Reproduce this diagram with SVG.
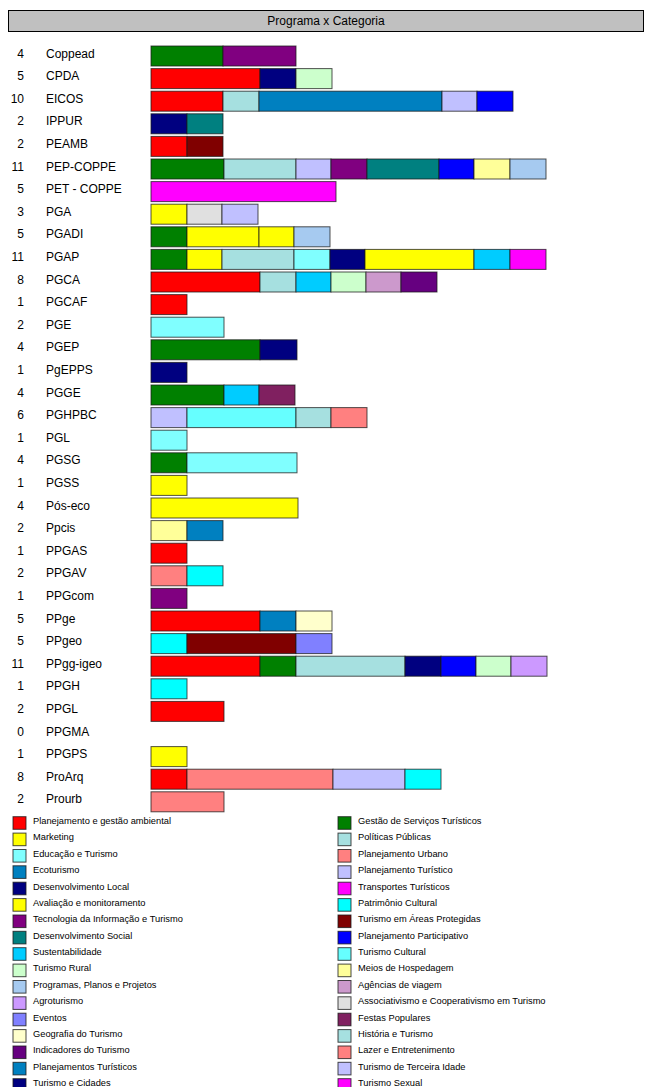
<svg xmlns="http://www.w3.org/2000/svg" width="651" height="1087" viewBox="0 0 651 1087">
<style>
text{font-family:"Liberation Sans",Arial,sans-serif;fill:#000}
.t{font-size:12px}
.n{font-size:12px;text-anchor:end}
.l{font-size:9.3px}
.s rect{stroke:#1a1a1a;stroke-opacity:0.75;stroke-width:1}
.k{stroke:#1a1a1a;stroke-opacity:0.8;stroke-width:1}
</style>
<rect width="651" height="1087" fill="#fff"/>
<g id="header">
<rect x="8.5" y="10.5" width="635" height="21" fill="#C0C0C0" stroke="#000"/>
<text class="t" x="326" y="25" text-anchor="middle">Programa x Categoria</text>
</g>
<g id="rows">
<g id="r-coppead"><text class="n" x="24" y="57.5">4</text><text class="t" x="46" y="57.5">Coppead</text><g class="s"><rect x="151" y="46" width="72" height="20" fill="#008000"/><rect x="223" y="46" width="73" height="20" fill="#800080"/></g></g>
<g id="r-cpda"><text class="n" x="24" y="80.1">5</text><text class="t" x="46" y="80.1">CPDA</text><g class="s"><rect x="151" y="68.6" width="109" height="20" fill="#FF0000"/><rect x="260" y="68.6" width="36" height="20" fill="#000080"/><rect x="296" y="68.6" width="36" height="20" fill="#CCFFCC"/></g></g>
<g id="r-eicos"><text class="n" x="24" y="102.7">10</text><text class="t" x="46" y="102.7">EICOS</text><g class="s"><rect x="151" y="91.2" width="72" height="20" fill="#FF0000"/><rect x="223" y="91.2" width="36" height="20" fill="#A6E0E0"/><rect x="259" y="91.2" width="183" height="20" fill="#0080C0"/><rect x="442" y="91.2" width="35" height="20" fill="#C0C0FF"/><rect x="477" y="91.2" width="36" height="20" fill="#0000FF"/></g></g>
<g id="r-ippur"><text class="n" x="24" y="125.3">2</text><text class="t" x="46" y="125.3">IPPUR</text><g class="s"><rect x="151" y="113.8" width="36" height="20" fill="#000080"/><rect x="187" y="113.8" width="36" height="20" fill="#008080"/></g></g>
<g id="r-peamb"><text class="n" x="24" y="147.9">2</text><text class="t" x="46" y="147.9">PEAMB</text><g class="s"><rect x="151" y="136.4" width="36" height="20" fill="#FF0000"/><rect x="187" y="136.4" width="36" height="20" fill="#800000"/></g></g>
<g id="r-pep"><text class="n" x="24" y="170.5">11</text><text class="t" x="46" y="170.5">PEP-COPPE</text><g class="s"><rect x="151" y="159" width="73" height="20" fill="#008000"/><rect x="224" y="159" width="72" height="20" fill="#A6E0E0"/><rect x="296" y="159" width="35" height="20" fill="#C0C0FF"/><rect x="331" y="159" width="36" height="20" fill="#800080"/><rect x="367" y="159" width="72" height="20" fill="#008080"/><rect x="439" y="159" width="35" height="20" fill="#0000FF"/><rect x="474" y="159" width="36" height="20" fill="#FFFF99"/><rect x="510" y="159" width="36" height="20" fill="#A6CAF0"/></g></g>
<g id="r-pet"><text class="n" x="24" y="193.1">5</text><text class="t" x="46" y="193.1">PET - COPPE</text><g class="s"><rect x="151" y="181.6" width="185" height="20" fill="#FF00FF"/></g></g>
<g id="r-pga"><text class="n" x="24" y="215.7">3</text><text class="t" x="46" y="215.7">PGA</text><g class="s"><rect x="151" y="204.2" width="36" height="20" fill="#FFFF00"/><rect x="187" y="204.2" width="35" height="20" fill="#E0E0E0"/><rect x="222" y="204.2" width="36" height="20" fill="#C0C0FF"/></g></g>
<g id="r-pgadi"><text class="n" x="24" y="238.3">5</text><text class="t" x="46" y="238.3">PGADI</text><g class="s"><rect x="151" y="226.8" width="36" height="20" fill="#008000"/><rect x="187" y="226.8" width="72" height="20" fill="#FFFF00"/><rect x="259" y="226.8" width="35" height="20" fill="#FFFF00"/><rect x="294" y="226.8" width="36" height="20" fill="#A6CAF0"/></g></g>
<g id="r-pgap"><text class="n" x="24" y="260.9">11</text><text class="t" x="46" y="260.9">PGAP</text><g class="s"><rect x="151" y="249.4" width="36" height="20" fill="#008000"/><rect x="187" y="249.4" width="35" height="20" fill="#FFFF00"/><rect x="222" y="249.4" width="72" height="20" fill="#A6E0E0"/><rect x="294" y="249.4" width="36" height="20" fill="#80FFFF"/><rect x="330" y="249.4" width="35" height="20" fill="#000080"/><rect x="365" y="249.4" width="109" height="20" fill="#FFFF00"/><rect x="474" y="249.4" width="36" height="20" fill="#00CCFF"/><rect x="510" y="249.4" width="36" height="20" fill="#FF00FF"/></g></g>
<g id="r-pgca"><text class="n" x="24" y="283.5">8</text><text class="t" x="46" y="283.5">PGCA</text><g class="s"><rect x="151" y="272" width="109" height="20" fill="#FF0000"/><rect x="260" y="272" width="36" height="20" fill="#A6E0E0"/><rect x="296" y="272" width="35" height="20" fill="#00CCFF"/><rect x="331" y="272" width="35" height="20" fill="#CCFFCC"/><rect x="366" y="272" width="35" height="20" fill="#CC99CC"/><rect x="401" y="272" width="36" height="20" fill="#660080"/></g></g>
<g id="r-pgcaf"><text class="n" x="24" y="306.1">1</text><text class="t" x="46" y="306.1">PGCAF</text><g class="s"><rect x="151" y="294.6" width="36" height="20" fill="#FF0000"/></g></g>
<g id="r-pge"><text class="n" x="24" y="328.7">2</text><text class="t" x="46" y="328.7">PGE</text><g class="s"><rect x="151" y="317.2" width="73" height="20" fill="#80FFFF"/></g></g>
<g id="r-pgep"><text class="n" x="24" y="351.3">4</text><text class="t" x="46" y="351.3">PGEP</text><g class="s"><rect x="151" y="339.8" width="109" height="20" fill="#008000"/><rect x="260" y="339.8" width="37" height="20" fill="#000080"/></g></g>
<g id="r-pgepps"><text class="n" x="24" y="373.9">1</text><text class="t" x="46" y="373.9">PgEPPS</text><g class="s"><rect x="151" y="362.4" width="36" height="20" fill="#000080"/></g></g>
<g id="r-pgge"><text class="n" x="24" y="396.5">4</text><text class="t" x="46" y="396.5">PGGE</text><g class="s"><rect x="151" y="385" width="73" height="20" fill="#008000"/><rect x="224" y="385" width="35" height="20" fill="#00CCFF"/><rect x="259" y="385" width="36" height="20" fill="#802060"/></g></g>
<g id="r-pghpbc"><text class="n" x="24" y="419.1">6</text><text class="t" x="46" y="419.1">PGHPBC</text><g class="s"><rect x="151" y="407.6" width="36" height="20" fill="#C0C0FF"/><rect x="187" y="407.6" width="109" height="20" fill="#66FFFF"/><rect x="296" y="407.6" width="35" height="20" fill="#A6E0E0"/><rect x="331" y="407.6" width="36" height="20" fill="#FF8080"/></g></g>
<g id="r-pgl"><text class="n" x="24" y="441.7">1</text><text class="t" x="46" y="441.7">PGL</text><g class="s"><rect x="151" y="430.2" width="36" height="20" fill="#80FFFF"/></g></g>
<g id="r-pgsg"><text class="n" x="24" y="464.3">4</text><text class="t" x="46" y="464.3">PGSG</text><g class="s"><rect x="151" y="452.8" width="36" height="20" fill="#008000"/><rect x="187" y="452.8" width="110" height="20" fill="#80FFFF"/></g></g>
<g id="r-pgss"><text class="n" x="24" y="486.9">1</text><text class="t" x="46" y="486.9">PGSS</text><g class="s"><rect x="151" y="475.4" width="36" height="20" fill="#FFFF00"/></g></g>
<g id="r-poseco"><text class="n" x="24" y="509.5">4</text><text class="t" x="46" y="509.5">Pós-eco</text><g class="s"><rect x="151" y="498" width="147" height="20" fill="#FFFF00"/></g></g>
<g id="r-ppcis"><text class="n" x="24" y="532.1">2</text><text class="t" x="46" y="532.1">Ppcis</text><g class="s"><rect x="151" y="520.6" width="36" height="20" fill="#FFFF99"/><rect x="187" y="520.6" width="36" height="20" fill="#0080C0"/></g></g>
<g id="r-ppgas"><text class="n" x="24" y="554.7">1</text><text class="t" x="46" y="554.7">PPGAS</text><g class="s"><rect x="151" y="543.2" width="36" height="20" fill="#FF0000"/></g></g>
<g id="r-ppgav"><text class="n" x="24" y="577.3">2</text><text class="t" x="46" y="577.3">PPGAV</text><g class="s"><rect x="151" y="565.8" width="36" height="20" fill="#FF8080"/><rect x="187" y="565.8" width="36" height="20" fill="#00FFFF"/></g></g>
<g id="r-ppgcom"><text class="n" x="24" y="599.9">1</text><text class="t" x="46" y="599.9">PPGcom</text><g class="s"><rect x="151" y="588.4" width="36" height="20" fill="#800080"/></g></g>
<g id="r-ppge"><text class="n" x="24" y="622.5">5</text><text class="t" x="46" y="622.5">PPge</text><g class="s"><rect x="151" y="611" width="109" height="20" fill="#FF0000"/><rect x="260" y="611" width="36" height="20" fill="#0080C0"/><rect x="296" y="611" width="36" height="20" fill="#FFFFCC"/></g></g>
<g id="r-ppgeo"><text class="n" x="24" y="645.1">5</text><text class="t" x="46" y="645.1">PPgeo</text><g class="s"><rect x="151" y="633.6" width="36" height="20" fill="#00FFFF"/><rect x="187" y="633.6" width="109" height="20" fill="#800000"/><rect x="296" y="633.6" width="36" height="20" fill="#8080FF"/></g></g>
<g id="r-ppgg"><text class="n" x="24" y="667.7">11</text><text class="t" x="46" y="667.7">PPgg-igeo</text><g class="s"><rect x="151" y="656.2" width="109" height="20" fill="#FF0000"/><rect x="260" y="656.2" width="36" height="20" fill="#008000"/><rect x="296" y="656.2" width="109" height="20" fill="#A6E0E0"/><rect x="405" y="656.2" width="36" height="20" fill="#000080"/><rect x="441" y="656.2" width="35" height="20" fill="#0000FF"/><rect x="476" y="656.2" width="35" height="20" fill="#CCFFCC"/><rect x="511" y="656.2" width="36" height="20" fill="#CC99FF"/></g></g>
<g id="r-ppgh"><text class="n" x="24" y="690.3">1</text><text class="t" x="46" y="690.3">PPGH</text><g class="s"><rect x="151" y="678.8" width="36" height="20" fill="#00FFFF"/></g></g>
<g id="r-ppgl"><text class="n" x="24" y="712.9">2</text><text class="t" x="46" y="712.9">PPGL</text><g class="s"><rect x="151" y="701.4" width="73" height="20" fill="#FF0000"/></g></g>
<g id="r-ppgma"><text class="n" x="24" y="735.5">0</text><text class="t" x="46" y="735.5">PPGMA</text></g>
<g id="r-ppgps"><text class="n" x="24" y="758.1">1</text><text class="t" x="46" y="758.1">PPGPS</text><g class="s"><rect x="151" y="746.6" width="36" height="20" fill="#FFFF00"/></g></g>
<g id="r-proarq"><text class="n" x="24" y="780.7">8</text><text class="t" x="46" y="780.7">ProArq</text><g class="s"><rect x="151" y="769.2" width="36" height="20" fill="#FF0000"/><rect x="187" y="769.2" width="146" height="20" fill="#FF8080"/><rect x="333" y="769.2" width="72" height="20" fill="#C0C0FF"/><rect x="405" y="769.2" width="36" height="20" fill="#00FFFF"/></g></g>
<g id="r-prourb"><text class="n" x="24" y="803.3">2</text><text class="t" x="46" y="803.3">Prourb</text><g class="s"><rect x="151" y="791.8" width="73" height="20" fill="#FF8080"/></g></g>
</g>
<g id="connectors"/>
<g id="legend">
<g id="leg-left">
<rect class="k" x="13" y="816.7" width="13" height="12.6" fill="#FF0000"/><text class="l" x="33" y="824">Planejamento e gestão ambiental</text>
<rect class="k" x="13" y="833.1" width="13" height="12.6" fill="#FFFF00"/><text class="l" x="33" y="840.4">Marketing</text>
<rect class="k" x="13" y="849.5" width="13" height="12.6" fill="#80FFFF"/><text class="l" x="33" y="856.8">Educação e Turismo</text>
<rect class="k" x="13" y="865.8" width="13" height="12.6" fill="#0080C0"/><text class="l" x="33" y="873.1">Ecoturismo</text>
<rect class="k" x="13" y="882.2" width="13" height="12.6" fill="#000080"/><text class="l" x="33" y="889.5">Desenvolvimento Local</text>
<rect class="k" x="13" y="898.6" width="13" height="12.6" fill="#FFFF00"/><text class="l" x="33" y="905.9">Avaliação e monitoramento</text>
<rect class="k" x="13" y="915" width="13" height="12.6" fill="#800080"/><text class="l" x="33" y="922.3">Tecnologia da Informação e Turismo</text>
<rect class="k" x="13" y="931.3" width="13" height="12.6" fill="#008080"/><text class="l" x="33" y="938.6">Desenvolvimento Social</text>
<rect class="k" x="13" y="947.7" width="13" height="12.6" fill="#00CCFF"/><text class="l" x="33" y="955">Sustentabilidade</text>
<rect class="k" x="13" y="964.1" width="13" height="12.6" fill="#CCFFCC"/><text class="l" x="33" y="971.4">Turismo Rural</text>
<rect class="k" x="13" y="980.5" width="13" height="12.6" fill="#A6CAF0"/><text class="l" x="33" y="987.8">Programas, Planos e Projetos</text>
<rect class="k" x="13" y="996.8" width="13" height="12.6" fill="#CC99FF"/><text class="l" x="33" y="1004.1">Agroturismo</text>
<rect class="k" x="13" y="1013.2" width="13" height="12.6" fill="#8080FF"/><text class="l" x="33" y="1020.5">Eventos</text>
<rect class="k" x="13" y="1029.6" width="13" height="12.6" fill="#FFFFCC"/><text class="l" x="33" y="1036.9">Geografia do Turismo</text>
<rect class="k" x="13" y="1046" width="13" height="12.6" fill="#660080"/><text class="l" x="33" y="1053.3">Indicadores do Turismo</text>
<rect class="k" x="13" y="1062.3" width="13" height="12.6" fill="#0080C0"/><text class="l" x="33" y="1069.6">Planejamentos Turísticos</text>
<rect class="k" x="13" y="1078.7" width="13" height="12.6" fill="#000080"/><text class="l" x="33" y="1086">Turismo e Cidades</text>
</g>
<g id="leg-right">
<rect class="k" x="338" y="816.7" width="13" height="12.6" fill="#008000"/><text class="l" x="358" y="824">Gestão de Serviços Turísticos</text>
<rect class="k" x="338" y="833.1" width="13" height="12.6" fill="#A6E0E0"/><text class="l" x="358" y="840.4">Políticas Públicas</text>
<rect class="k" x="338" y="849.5" width="13" height="12.6" fill="#FF8080"/><text class="l" x="358" y="856.8">Planejamento Urbano</text>
<rect class="k" x="338" y="865.8" width="13" height="12.6" fill="#C0C0FF"/><text class="l" x="358" y="873.1">Planejamento Turístico</text>
<rect class="k" x="338" y="882.2" width="13" height="12.6" fill="#FF00FF"/><text class="l" x="358" y="889.5">Transportes Turísticos</text>
<rect class="k" x="338" y="898.6" width="13" height="12.6" fill="#00FFFF"/><text class="l" x="358" y="905.9">Patrimônio Cultural</text>
<rect class="k" x="338" y="915" width="13" height="12.6" fill="#800000"/><text class="l" x="358" y="922.3">Turismo em Áreas Protegidas</text>
<rect class="k" x="338" y="931.3" width="13" height="12.6" fill="#0000FF"/><text class="l" x="358" y="938.6">Planejamento Participativo</text>
<rect class="k" x="338" y="947.7" width="13" height="12.6" fill="#66FFFF"/><text class="l" x="358" y="955">Turismo Cultural</text>
<rect class="k" x="338" y="964.1" width="13" height="12.6" fill="#FFFF99"/><text class="l" x="358" y="971.4">Meios de Hospedagem</text>
<rect class="k" x="338" y="980.5" width="13" height="12.6" fill="#CC99CC"/><text class="l" x="358" y="987.8">Agências de viagem</text>
<rect class="k" x="338" y="996.8" width="13" height="12.6" fill="#E0E0E0"/><text class="l" x="358" y="1004.1">Associativismo e Cooperativismo em Turismo</text>
<rect class="k" x="338" y="1013.2" width="13" height="12.6" fill="#802060"/><text class="l" x="358" y="1020.5">Festas Populares</text>
<rect class="k" x="338" y="1029.6" width="13" height="12.6" fill="#A6E0E0"/><text class="l" x="358" y="1036.9">História e Turismo</text>
<rect class="k" x="338" y="1046" width="13" height="12.6" fill="#FF8080"/><text class="l" x="358" y="1053.3">Lazer e Entretenimento</text>
<rect class="k" x="338" y="1062.3" width="13" height="12.6" fill="#C0C0FF"/><text class="l" x="358" y="1069.6">Turismo de Terceira Idade</text>
<rect class="k" x="338" y="1078.7" width="13" height="12.6" fill="#FF00FF"/><text class="l" x="358" y="1086">Turismo Sexual</text>
</g>
</g>
</svg>
